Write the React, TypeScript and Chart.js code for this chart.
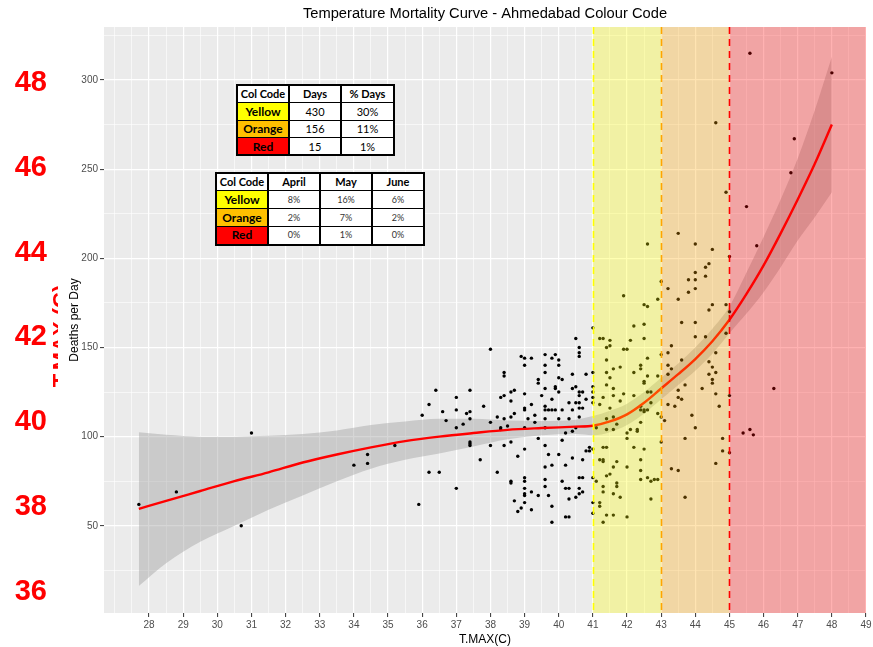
import React, { useEffect, useRef } from "react";
import { Chart, registerables } from "chart.js";

Chart.register(...registerables);

// ---------- data ----------
const chartTitle = "Temperature Mortality Curve - Ahmedabad Colour Code";

// daily observations: [max temperature (C), deaths that day]
const dailyObs: [number, number][] = [
  [27.7, 62], [28.8, 69], [30.7, 50], [31.0, 102], [34.0, 84], [34.4, 90], [34.4, 85],
  [38.0, 149], [36.4, 126], [36.2, 118], [36.0, 112], [35.2, 95], [35.9, 62], [36.2, 80], [36.5, 80],
  [36.6, 114], [37.0, 122], [37.0, 115], [37.0, 105], [37.0, 71], [36.7, 109], [37.2, 107], [37.4, 126],
  [37.3, 113], [37.4, 114], [37.4, 110], [37.4, 97], [37.4, 96], [37.4, 95], [37.7, 87], [37.8, 117],
  [38.0, 108], [38.0, 95], [38.2, 111], [38.2, 80], [38.3, 122], [38.3, 105], [38.3, 104], [38.4, 136],
  [38.4, 134], [38.4, 123], [38.4, 110], [38.4, 95], [38.5, 106], [38.6, 125], [38.6, 120], [38.6, 111],
  [38.6, 97], [38.6, 75], [38.6, 74], [38.7, 126], [38.7, 113], [38.7, 64], [38.8, 89], [38.8, 58],
  [38.9, 145], [39.0, 144], [39.0, 140], [39.0, 124], [39.0, 116], [39.0, 115], [39.0, 105], [39.0, 93],
  [39.0, 77], [39.0, 75], [39.0, 71], [39.0, 68], [39.0, 67], [39.0, 63], [38.9, 60], [39.2, 144],
  [39.2, 118], [39.2, 69], [39.2, 59], [39.1, 110], [39.3, 112], [39.3, 108], [39.4, 132], [39.4, 130],
  [39.4, 99], [39.4, 67], [39.5, 123], [39.6, 146], [39.6, 140], [39.6, 136], [39.6, 127], [39.6, 117],
  [39.6, 115], [39.6, 110], [39.6, 105], [39.6, 95], [39.6, 83], [39.6, 76], [39.6, 72], [39.7, 115],
  [39.7, 90], [39.7, 67], [39.8, 144], [39.8, 115], [39.8, 121], [39.8, 84], [39.8, 61], [39.8, 52],
  [39.9, 115], [39.9, 146], [39.9, 128], [39.9, 127], [40.0, 143], [40.0, 140], [40.0, 133], [40.1, 132],
  [40.0, 125], [40.0, 110], [40.0, 90], [40.1, 115], [40.1, 98], [40.1, 75], [40.2, 102], [40.2, 84],
  [40.2, 71], [40.3, 119], [40.3, 110], [40.3, 71], [40.3, 65], [40.2, 55], [40.3, 55], [40.4, 135],
  [40.4, 127], [40.4, 115], [40.4, 103], [40.4, 88], [40.5, 155], [40.5, 128], [40.5, 119], [40.5, 105],
  [40.5, 66], [40.6, 150], [40.6, 147], [40.6, 145], [40.6, 125], [40.6, 123], [40.6, 119], [40.6, 116],
  [40.6, 111], [40.6, 77], [40.7, 77], [40.6, 71], [40.6, 68], [40.7, 125], [40.7, 116], [40.7, 87],
  [40.7, 69], [40.8, 135], [40.8, 121], [40.8, 92], [40.9, 94], [40.9, 92],
  [41.0, 161], [41.0, 136], [41.0, 128], [41.0, 125], [41.0, 122], [41.0, 119], [41.0, 93], [41.0, 77],
  [41.0, 63], [41.0, 57],
  [42.6, 208], [41.9, 179], [42.5, 174], [42.6, 173], [42.9, 177], [43.0, 187], [42.2, 162], [42.5, 163],
  [42.5, 155], [42.1, 154], [41.2, 155], [41.3, 155], [41.5, 154], [41.5, 151], [41.4, 150], [41.9, 149],
  [42.0, 149], [42.6, 144], [43.0, 146], [41.4, 143], [41.8, 139], [41.6, 138], [42.2, 136], [42.4, 140],
  [42.4, 138], [41.4, 136], [41.5, 133], [42.5, 131], [42.5, 130], [42.6, 134], [42.9, 134], [41.4, 129],
  [41.6, 127], [41.3, 122], [41.6, 123], [41.9, 124], [42.2, 123], [42.6, 125], [42.7, 125], [41.8, 120],
  [41.2, 118], [42.7, 119], [42.4, 117], [42.5, 115], [42.4, 115], [42.5, 114], [42.6, 115], [41.5, 116],
  [42.9, 113], [42.4, 108], [41.4, 110], [41.6, 111], [41.7, 107], [41.1, 105], [41.4, 104], [41.6, 104],
  [42.1, 104], [42.3, 104], [42.3, 103], [42.0, 102], [42.0, 99], [43.0, 111], [43.1, 109], [41.3, 94],
  [41.4, 94], [42.2, 94], [42.5, 93], [41.2, 87], [41.3, 87], [41.3, 86], [41.7, 86], [42.0, 83],
  [41.6, 83], [42.4, 87], [42.4, 81], [41.5, 79], [41.4, 78], [42.4, 76], [42.6, 77], [42.7, 75],
  [42.8, 76], [42.9, 76], [41.1, 75], [41.7, 74], [41.7, 72], [41.3, 72], [41.3, 69], [41.6, 68],
  [41.8, 66], [42.7, 65], [41.2, 63], [41.2, 61], [41.4, 56], [41.6, 56], [42.0, 55], [41.3, 52],
  [43.5, 214], [44.0, 208], [44.5, 205], [44.4, 197], [44.3, 195], [44.0, 192], [44.0, 188], [44.0, 183],
  [43.8, 188], [43.8, 181], [44.3, 190], [43.2, 183], [43.5, 177], [44.5, 174], [44.4, 171], [44.9, 174],
  [43.6, 164], [44.0, 164], [44.0, 156], [44.3, 156], [43.3, 151], [43.2, 147], [44.6, 147], [44.9, 158],
  [43.6, 143], [44.4, 142], [43.2, 140], [43.3, 138], [44.5, 139], [44.4, 135], [44.6, 136], [43.2, 135],
  [44.5, 132], [44.5, 130], [43.7, 129], [44.2, 127], [43.5, 126], [44.6, 124], [43.5, 122], [43.6, 121],
  [43.2, 118], [43.4, 117], [44.7, 117], [43.9, 112], [44.0, 105], [43.0, 97], [43.7, 99], [44.8, 99],
  [44.8, 92], [45.0, 91], [44.6, 85], [43.3, 82], [43.5, 81], [43.7, 66], [44.6, 276], [44.9, 237],
  [45.6, 315], [48.0, 304], [46.9, 267], [46.8, 248], [45.5, 229], [45.8, 207], [45.0, 201], [45.0, 170],
  [46.3, 127], [45.0, 123], [45.4, 102], [45.6, 104], [45.7, 101],
];

// smoothed curve with its confidence band
const fitTemp = [27.7, 28.5, 29.5, 30.5, 31.5, 32.5, 33.5, 34.5, 35.5, 36.5, 37.5, 38.5, 39.5, 40.5, 41.0,
  41.5, 42.0, 42.5, 43.0, 43.5, 44.0, 44.5, 45.0, 45.5, 46.0, 46.5, 47.0, 47.5, 48.0];
const fitDeaths = [59.5, 64, 69.5, 75, 80, 85.5, 90, 94, 97.5, 100, 102, 103.8, 104.8, 105.6, 106.1,
  108.5, 112.5, 119, 127, 135, 143.5, 153.5, 165.5, 180, 196, 214, 233, 253, 275];
const fitUpper = [102.4, 101, 100, 100, 100.5, 101.5, 103.5, 106.5, 108.5, 110, 110, 109, 108.8, 109.5, 111.5,
  114.5, 118.5, 125, 133, 141, 150, 160.5, 173, 192, 212, 233, 256, 283, 313];
const fitLower = [16.2, 29, 41, 50, 59, 67, 75, 82, 87, 90.5, 94.5, 98.5, 100.8, 101.5, 100.8,
  102.5, 106.5, 113, 121, 129, 137, 146.5, 158, 169, 181, 195, 210, 223, 237];

// colour code zones (temperature thresholds)
const zoneNames = ["Yellow", "Orange", "Red"];
const zoneFrom = [41, 43, 45];
const zoneTo = [43, 45, 49];
const zoneFill = ["rgba(255,255,0,0.3)", "rgba(255,165,0,0.3)", "rgba(255,0,0,0.3)"];
const zoneLine = ["#FFFF00", "#FFA500", "#FF0000"];
const zoneCell = ["#FFFF00", "#FFC000", "#FF0000"];

// summary tables
const zoneDays = ["430", "156", "15"];
const zoneDayPct = ["30%", "11%", "1%"];
const monthNames = ["April", "May", "June"];
const monthPct = [
  ["8%", "16%", "6%"],
  ["2%", "7%", "2%"],
  ["0%", "1%", "0%"],
];

// axes
const xTicks = [28, 29, 30, 31, 32, 33, 34, 35, 36, 37, 38, 39, 40, 41, 42, 43, 44, 45, 46, 47, 48, 49];
const yTicks = [50, 100, 150, 200, 250, 300];
const tmaxTicks = [36, 38, 40, 42, 44, 46, 48];

// ---------- drawing ----------
const FONT = '"Liberation Sans", Arial, sans-serif';
const PANEL_BG = "#EBEBEB";

const xGrid = (() => {
  const out: number[] = [xTicks[0] - 1, xTicks[0] - 0.5];
  xTicks.forEach((v, i) => {
    out.push(v);
    if (i < xTicks.length - 1) out.push(v + 0.5);
  });
  return out;
})();
const yGrid = (() => {
  const out: number[] = [yTicks[0] - 25];
  yTicks.forEach((v) => out.push(v, v + 25));
  return out;
})();

const panelPlugin = {
  id: "panel",
  beforeDraw(chart: any) {
    const { ctx, chartArea } = chart;
    ctx.save();
    ctx.fillStyle = "#FFFFFF";
    ctx.fillRect(0, 0, chart.width, chart.height);
    ctx.fillStyle = PANEL_BG;
    ctx.fillRect(chartArea.left, chartArea.top, chartArea.right - chartArea.left, chartArea.bottom - chartArea.top);
    ctx.restore();
  },
  afterDatasetsDraw(chart: any) {
    const { ctx, chartArea, scales } = chart;
    const xs = scales.x;
    ctx.save();
    zoneFrom.forEach((from, i) => {
      const x0 = xs.getPixelForValue(from);
      const x1 = xs.getPixelForValue(zoneTo[i]);
      ctx.fillStyle = zoneFill[i];
      ctx.fillRect(x0, chartArea.top, x1 - x0, chartArea.bottom - chartArea.top);
    });
    ctx.lineWidth = 1.6;
    ctx.setLineDash([7, 5]);
    zoneFrom.forEach((from, i) => {
      const x = Math.round(xs.getPixelForValue(from)) + 0.5;
      ctx.strokeStyle = zoneLine[i];
      ctx.beginPath();
      ctx.moveTo(x, chartArea.top);
      ctx.lineTo(x, chartArea.bottom);
      ctx.stroke();
    });
    ctx.restore();
  },
  afterDraw(chart: any) {
    const { ctx, chartArea } = chart;
    ctx.save();
    ctx.fillStyle = "#000000";
    ctx.font = `14.7px ${FONT}`;
    ctx.textAlign = "center";
    ctx.textBaseline = "middle";
    ctx.fillText(chartTitle, (chartArea.left + chartArea.right) / 2, 14);
    ctx.restore();

    // secondary axis name, partly hidden behind the deaths axis strip
    const yAxis = chart.scales.y;
    ctx.save();
    ctx.beginPath();
    ctx.rect(0, 0, yAxis.left, chart.height);
    ctx.clip();
    ctx.translate(67.5, 336);
    ctx.rotate(-Math.PI / 2);
    ctx.fillStyle = "#FF0000";
    ctx.font = `bold 22px ${FONT}`;
    ctx.textAlign = "center";
    ctx.textBaseline = "alphabetic";
    ctx.fillText("T.MAX (C)", 0, 0);
    ctx.restore();
  },
};

type TableProps = {
  left: number;
  top: number;
  colWidths: number[];
  rowHeight: number;
  header: string[];
  rows: string[][];
  valueSize: number;
  valueColor: string;
};

function ZoneTable({ left, top, colWidths, rowHeight, header, rows, valueSize, valueColor }: TableProps) {
  const total = colWidths.reduce((a, b) => a + b, 0);
  const base: React.CSSProperties = {
    padding: 0,
    height: rowHeight,
    textAlign: "center",
    verticalAlign: "middle",
    borderTop: "1px solid #000",
    borderBottom: "1px solid #000",
    borderLeft: "2px solid #000",
    borderRight: "2px solid #000",
    overflow: "hidden",
    whiteSpace: "nowrap",
    lineHeight: `${rowHeight - 2}px`,
    boxSizing: "border-box",
  };
  return (
    <table
      style={{
        position: "absolute",
        left,
        top,
        width: total,
        borderCollapse: "collapse",
        tableLayout: "fixed",
        background: "#FFFFFF",
        border: "2px solid #000",
        fontFamily: "Lato, 'Open Sans', sans-serif",
      }}
    >
      <colgroup>
        {colWidths.map((w, i) => (
          <col key={i} style={{ width: w }} />
        ))}
      </colgroup>
      <tbody>
        <tr style={{ height: rowHeight }}>
          {header.map((h, i) => (
            <td key={i} style={{ ...base, fontWeight: 700, fontSize: 11, color: "#000" }}>
              {h}
            </td>
          ))}
        </tr>
        {rows.map((r, ri) => (
          <tr key={ri} style={{ height: rowHeight }}>
            {r.map((c, ci) =>
              ci === 0 ? (
                <td key={ci} style={{ ...base, background: zoneCell[ri], fontWeight: 700, fontSize: 12, color: "#000" }}>
                  {c}
                </td>
              ) : (
                <td key={ci} style={{ ...base, fontSize: valueSize, color: valueColor }}>
                  {c}
                </td>
              )
            )}
          </tr>
        ))}
      </tbody>
    </table>
  );
}

export default function App() {
  const canvasRef = useRef<HTMLCanvasElement>(null);

  useEffect(() => {
    const canvas = canvasRef.current;
    if (!canvas) return;

    const isMajorX = (v: number) => xTicks.includes(v);
    const isMajorY = (v: number) => yTicks.includes(v);

    const chart = new Chart(canvas, {
      type: "scatter",
      data: {
        datasets: [
          {
            label: "fit",
            data: fitTemp.map((t, i) => ({ x: t, y: fitDeaths[i] })),
            showLine: true,
            borderColor: "#FF0000",
            borderWidth: 2.4,
            pointRadius: 0,
            cubicInterpolationMode: "monotone",
          } as any,
          {
            label: "deaths",
            data: dailyObs.map(([t, d]) => ({ x: t, y: d })),
            backgroundColor: "#000000",
            borderWidth: 0,
            pointRadius: 1.7,
          },
          {
            label: "lower",
            data: fitTemp.map((t, i) => ({ x: t, y: fitLower[i] })),
            showLine: true,
            borderColor: "rgba(0,0,0,0)",
            backgroundColor: "rgba(153,153,153,0.4)",
            pointRadius: 0,
            fill: 3,
            cubicInterpolationMode: "monotone",
          } as any,
          {
            label: "upper",
            data: fitTemp.map((t, i) => ({ x: t, y: fitUpper[i] })),
            showLine: true,
            borderColor: "rgba(0,0,0,0)",
            pointRadius: 0,
            fill: false,
            cubicInterpolationMode: "monotone",
          } as any,
        ],
      },
      options: {
        responsive: false,
        animation: false,
        events: [],
        layout: { padding: { top: 27, right: 7, bottom: 0, left: 0 } },
        plugins: {
          legend: { display: false },
          tooltip: { enabled: false },
          title: { display: false },
        },
        scales: {
          x: {
            type: "linear",
            min: 26.68,
            max: 49,
            afterBuildTicks: (s: any) => {
              s.ticks = xGrid.map((v) => ({ value: v }));
            },
            afterFit: (s: any) => {
              s.height = 34;
              s.paddingLeft = 0;
              s.paddingRight = 0;
            },
            border: { display: false },
            grid: {
              color: "#FFFFFF",
              lineWidth: (c: any) => (isMajorX(c.tick?.value) ? 1.2 : 0.6),
              tickColor: (c: any) => (isMajorX(c.tick?.value) ? "#333333" : "rgba(0,0,0,0)"),
              tickLength: 4,
              tickWidth: 1,
            },
            ticks: {
              autoSkip: false,
              maxRotation: 0,
              padding: 2,
              color: "#4D4D4D",
              font: { family: FONT, size: 10 },
              callback: (v: any) => (isMajorX(Number(v)) ? String(v) : ""),
            },
            title: {
              display: true,
              text: "T.MAX(C)",
              color: "#000000",
              font: { family: FONT, size: 12 },
              padding: 0,
            },
          },
          y: {
            type: "linear",
            position: "left",
            weight: 0,
            min: 1.1,
            max: 329.7,
            afterBuildTicks: (s: any) => {
              s.ticks = yGrid.map((v) => ({ value: v }));
            },
            afterFit: (s: any) => {
              s.width = 46;
              s.paddingTop = 0;
              s.paddingBottom = 0;
            },
            border: { display: false },
            grid: {
              color: "#FFFFFF",
              lineWidth: (c: any) => (isMajorY(c.tick?.value) ? 1.2 : 0.6),
              tickColor: (c: any) => (isMajorY(c.tick?.value) ? "#333333" : "rgba(0,0,0,0)"),
              tickLength: 4,
              tickWidth: 1,
            },
            ticks: {
              autoSkip: false,
              padding: 2,
              color: "#4D4D4D",
              font: { family: FONT, size: 10 },
              callback: (v: any) => (isMajorY(Number(v)) ? String(v) : ""),
            },
            title: {
              display: true,
              text: "Deaths per Day",
              color: "#000000",
              font: { family: FONT, size: 12 },
              padding: { top: 9, bottom: 0 },
            },
          },
          tmax: {
            type: "linear",
            position: "left",
            weight: 1,
            min: 35.505,
            max: 49.32,
            afterBuildTicks: (s: any) => {
              s.ticks = tmaxTicks.map((v) => ({ value: v }));
            },
            afterFit: (s: any) => {
              s.width = 58;
              s.paddingTop = 0;
              s.paddingBottom = 0;
            },
            border: { display: false },
            grid: { display: false, drawTicks: false },
            ticks: {
              autoSkip: false,
              padding: 11,
              color: "#FF0000",
              font: { family: FONT, size: 29, weight: "bold" },
            },
          },
        } as any,
      },
      plugins: [panelPlugin],
    });

    return () => chart.destroy();
  }, []);

  return (
    <div
      style={{
        position: "fixed",
        left: 0,
        top: 0,
        width: 873,
        height: 647,
        background: "#FFFFFF",
        overflow: "hidden",
      }}
    >
      <canvas ref={canvasRef} width={873} height={647} style={{ display: "block", width: 873, height: 647 }} />
      <ZoneTable
        left={236}
        top={84}
        colWidths={[52, 52, 53]}
        rowHeight={17.6}
        header={["Col Code", "Days", "% Days"]}
        rows={zoneNames.map((z, i) => [z, zoneDays[i], zoneDayPct[i]])}
        valueSize={11}
        valueColor="#000"
      />
      <ZoneTable
        left={215}
        top={172}
        colWidths={[52, 52, 52, 52]}
        rowHeight={17.9}
        header={["Col Code", ...monthNames]}
        rows={zoneNames.map((z, i) => [z, ...monthPct[i]])}
        valueSize={9}
        valueColor="#333"
      />
    </div>
  );
}
